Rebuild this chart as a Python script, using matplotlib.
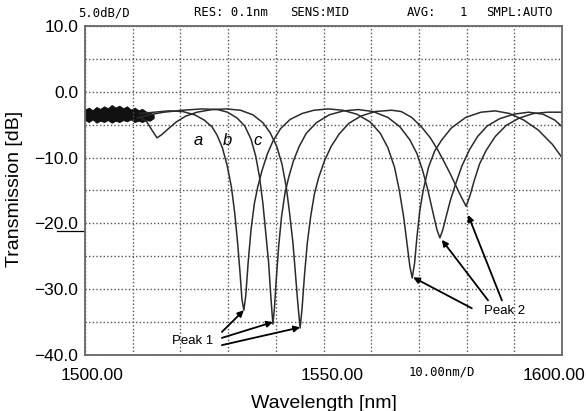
import matplotlib.pyplot as plt
import numpy as np

# curve a: (wavelength nm, transmission dB)
wl_a = [1511.5, 1514.5, 1517.5, 1520.5, 1523, 1525, 1526.6, 1527.7, 1528.8, 1529.8,
        1530.7, 1531.4, 1532.0, 1532.5, 1532.9, 1533.3, 1533.7, 1534.2, 1534.8, 1535.5,
        1536.2, 1537.1, 1538.2, 1539.4, 1541, 1543, 1545.5, 1548, 1551, 1554,
        1557, 1559.8, 1561.9, 1563.5, 1564.9, 1565.9, 1566.8, 1567.5, 1568.1, 1568.6,
        1569.1, 1569.6, 1570.2, 1570.9, 1572.0, 1573.3, 1574.8, 1576.8, 1579.8, 1583,
        1586, 1589, 1592, 1595, 1598, 1600]
db_a = [-3.3, -3.1, -2.9, -3.0, -3.5, -4.3, -5.3, -6.6, -8.5, -11.2,
        -14.5, -18.5, -23, -27.5, -31.5, -33.2, -31, -26, -21, -17,
        -14.5, -12, -9.5, -7.5, -5.6, -4.2, -3.3, -2.8, -2.6, -2.8,
        -3.4, -4.6, -6.3, -8.5, -11.5, -15, -19, -23, -26.5, -28.3,
        -26, -22, -18, -15, -11.5, -9, -7.3, -5.5, -3.9, -3.1,
        -2.9, -3.3, -4.3, -5.8, -8, -10]

# curve b
wl_b = [1511, 1513.5, 1516.5, 1520.5, 1524.5, 1527.8, 1529.9, 1531.9, 1533.5, 1534.8,
        1535.8, 1536.6, 1537.3, 1537.9, 1538.5, 1538.9, 1539.2, 1539.4, 1539.7, 1540.1,
        1540.6, 1541.2, 1541.9, 1542.7, 1543.7, 1544.9, 1546.4, 1548.5, 1551.2, 1554.2,
        1557.3, 1560.4, 1563.5, 1566, 1568.1, 1569.6, 1570.8, 1571.9, 1572.9, 1573.8,
        1574.4, 1575, 1575.7, 1576.6, 1577.7, 1579.0, 1580.6, 1582.3, 1584.3, 1586.9,
        1589.9, 1593, 1596, 1598.5, 1600]
db_b = [-4.0, -3.5, -3.1, -2.8, -2.6, -2.7, -3.1, -4.0, -5.2, -7.2,
        -9.8, -13, -17, -21.5, -26, -30.5, -33.5, -35.3, -33, -28.5,
        -23.5, -19, -15.5, -13, -10.5, -8.3, -6.3, -4.7, -3.5, -2.9,
        -2.7, -3.0, -3.9, -5.3, -7.3, -9.4, -12, -15, -18.2, -21,
        -22.2, -21, -19, -16.5, -14, -11.3, -8.8, -6.8, -5.2, -4.1,
        -3.4, -3.1, -3.4, -4.3, -5.3]

# curve c
wl_c = [1511.5, 1513.0, 1514.1, 1515.1, 1516.1, 1517.5, 1519.1, 1521.1, 1523.5, 1526.6,
        1529.6, 1532.6, 1535.2, 1537.3, 1538.8, 1540.2, 1541.3, 1542.2, 1542.9, 1543.6,
        1544.1, 1544.6, 1545.1, 1545.5, 1546.0, 1546.6, 1547.3, 1548.1, 1549.0, 1550.2,
        1551.6, 1553.3, 1555.3, 1557.8, 1560.8, 1564.3, 1566.3, 1568.5, 1570.5, 1572.4,
        1574.0, 1575.4, 1576.6, 1577.7, 1578.9, 1579.9, 1580.7, 1581.6, 1582.7, 1584.1,
        1586, 1588.3, 1591, 1594, 1597, 1600]
db_c = [-3.8, -4.6, -5.9, -7.0, -6.5, -5.6, -4.6, -3.7, -3.1, -2.7,
        -2.6, -2.8, -3.5, -4.7, -6.2, -8.3, -11, -14.5, -18.5, -23,
        -27.5, -32, -35.9, -33, -28, -23, -19, -15.5, -13, -10.5,
        -8.3, -6.4, -4.8, -3.7, -3.0, -2.8, -3.0, -3.9, -5.3, -7.0,
        -8.9, -10.8, -12.5, -14.2, -16, -17.4, -15.8, -13.5, -11, -8.9,
        -6.8, -5.1, -4.0, -3.3, -3.1, -3.1]

# noisy source band at short wavelengths (ragged envelope)
noise_wl = [1500, 1500.8, 1501.6, 1502.4, 1503.2, 1504, 1504.8, 1505.6, 1506.4, 1507.2,
            1508, 1508.8, 1509.6, 1510.4, 1511.2, 1512, 1512.8, 1513.6, 1514.4]
noise_hi = [-2.7, -2.4, -2.8, -2.3, -2.6, -2.2, -2.5, -2.0, -2.4, -2.1,
            -2.5, -2.2, -2.7, -2.4, -2.8, -2.6, -3.0, -3.1, -3.5]
noise_lo = [-4.3, -4.6, -4.2, -4.7, -4.4, -4.6, -4.3, -4.7, -4.4, -4.6,
            -4.3, -4.5, -4.2, -4.6, -4.4, -4.6, -4.3, -4.4, -4.0]

ytick_vals = [10, 5, 0, -5, -10, -15, -20, -25, -30, -35, -40]
ytick_labels = ['10.0', '', '0.0', '', '\u221210.0', '', '\u221220.0', '',
                '\u221230.0', '', '\u221240.0']

peak1_tips = [(1533.3, -33.2), (1539.4, -35.0), (1545.1, -35.8)]
peak1_tails = [(1528.7, -36.5), (1528.7, -37.4), (1528.7, -38.5)]
peak2_tips = [(1568.8, -28.2), (1574.8, -22.5), (1580.3, -18.7)]
peak2_tails = [(1581.1, -32.9), (1584.5, -31.7), (1587.4, -31.7)]

W, H = 586, 411
fig = plt.figure(figsize=(W / 100, H / 100), dpi=100)
ax = fig.add_axes([85 / W, 1 - 355 / H, (562 - 85) / W, (355 - 26) / H])

line_col = '#2b2b2b'
ax.fill_between(noise_wl, noise_lo, noise_hi, color='#111111', lw=0.6)
ax.plot(wl_a, db_a, color=line_col, lw=1.1)
ax.plot(wl_b, db_b, color=line_col, lw=1.1)
ax.plot(wl_c, db_c, color=line_col, lw=1.1)

ax.set_xlim(1500, 1600)
ax.set_ylim(-40, 10)
ax.set_xticks(np.arange(1500, 1601, 10))
ax.set_xticklabels([])
ax.set_yticks(ytick_vals)
ax.set_yticklabels(ytick_labels, fontsize=12.5, family='Liberation Sans')
ax.tick_params(length=0, pad=5)
ax.grid(True, color='#555555', linestyle=(0, (1, 1.6)), lw=1.0)
for s in ax.spines.values():
    s.set_color('#666666')
    s.set_linewidth(1.3)

for lab, x in zip(['a', 'b', 'c'], [1523.7, 1529.8, 1536.1]):
    ax.text(x, -7.4, lab, fontsize=12, style='italic', family='Liberation Sans',
            ha='center', va='center')

arrow = dict(arrowstyle='-|>', color='black', lw=1.3, mutation_scale=9,
             shrinkA=0, shrinkB=0)
for tip, tail in zip(peak1_tips, peak1_tails):
    ax.annotate('', xy=tip, xytext=tail, arrowprops=arrow)
for tip, tail in zip(peak2_tips, peak2_tails):
    ax.annotate('', xy=tip, xytext=tail, arrowprops=arrow)
ax.text(1518.2, -37.8, 'Peak 1', fontsize=9.5, family='Liberation Sans', va='center')
ax.text(1583.6, -33.3, 'Peak 2', fontsize=9.5, family='Liberation Sans', va='center')

# x labels placed like the instrument screen
fig.text(92.5 / W, 1 - 375.5 / H, '1500.00', fontsize=12.5, family='Liberation Sans',
         ha='center', va='center')
fig.text(331.7 / W, 1 - 375.5 / H, '1550.00', fontsize=12.5, family='Liberation Sans',
         ha='center', va='center')
fig.text(585 / W, 1 - 375.5 / H, '1600.00', fontsize=12.5, family='Liberation Sans',
         ha='right', va='center')
fig.text(409 / W, 1 - 372 / H, '10.00nm/D', fontsize=8.8, family='DejaVu Sans Mono',
         ha='left', va='center')
fig.text(324 / W, 1 - 403 / H, 'Wavelength [nm]', fontsize=14, family='Liberation Sans',
         ha='center', va='center')
fig.text(15 / W, 1 - 189 / H, 'Transmission [dB]', fontsize=14, family='Liberation Sans',
         ha='center', va='center', rotation=90)

# header line of the spectrum analyser
header = [(78.5, '5.0dB/D'), (194, 'RES: 0.1nm'), (290, 'SENS:MID'),
          (407, 'AVG:'), (460, '1'), (486, 'SMPL:AUTO')]
for x, t in header:
    fig.text(x / W, 1 - 13 / H, t, fontsize=8.8, family='DejaVu Sans Mono',
             ha='left', va='center')

# underline below -20.0 as on the screenshot
fig.add_artist(plt.Line2D([57 / W, 83 / W], [1 - 231 / H, 1 - 231 / H],
                          color='black', lw=0.9))

fig.savefig('out.png', dpi=100)
